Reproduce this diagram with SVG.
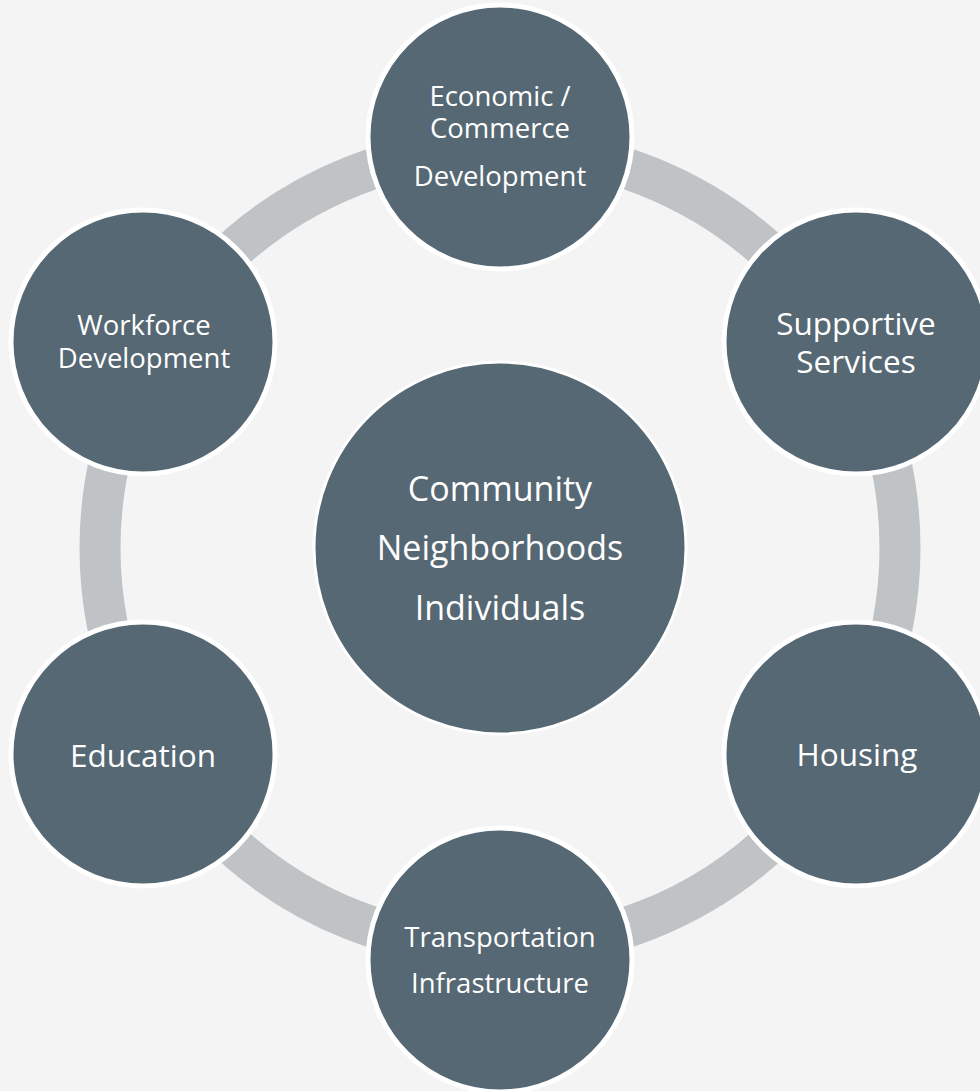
<svg xmlns="http://www.w3.org/2000/svg" width="980" height="1091" viewBox="0 0 980 1091">
<style>
.node{fill:#566873;stroke:#ffffff;stroke-width:5}
.center{fill:#566873;stroke:#ffffff;stroke-width:3}
.ring{fill:none;stroke:#bfc3c6;stroke-width:41}
text{font-family:"Open Sans","Noto Sans","Liberation Sans",sans-serif;fill:#ffffff;text-anchor:middle}
.s{font-size:27.5px}
.m{font-size:31.5px}
.l{font-size:34px}
</style>
<rect x="0" y="0" width="980" height="1091" fill="#f4f4f4"/>
<g id="connectors">
<circle class="ring" cx="500" cy="548" r="400"/>
</g>
<g id="node-center">
<circle class="center" cx="500" cy="548" r="186"/>
<text class="l" x="500" y="501">Community</text>
<text class="l" x="500" y="560">Neighborhoods</text>
<text class="l" x="500" y="620">Individuals</text>
</g>
<g id="node-economic">
<circle class="node" cx="500" cy="137" r="132"/>
<text class="s" x="500" y="106">Economic /</text>
<text class="s" x="500" y="138">Commerce</text>
<text class="s" x="500" y="186">Development</text>
</g>
<g id="node-supportive">
<circle class="node" cx="856" cy="342" r="132"/>
<text class="m" x="856" y="335">Supportive</text>
<text class="m" x="856" y="373">Services</text>
</g>
<g id="node-housing">
<circle class="node" cx="856" cy="754" r="132"/>
<text class="m" x="857" y="766">Housing</text>
</g>
<g id="node-transportation">
<circle class="node" cx="500" cy="960" r="132"/>
<text class="s" x="500" y="947">Transportation</text>
<text class="s" x="500" y="993">Infrastructure</text>
</g>
<g id="node-education">
<circle class="node" cx="143" cy="754" r="132"/>
<text class="m" x="143" y="767">Education</text>
</g>
<g id="node-workforce">
<circle class="node" cx="143" cy="342" r="132"/>
<text class="s" x="144" y="335">Workforce</text>
<text class="s" x="144" y="368">Development</text>
</g>
</svg>
